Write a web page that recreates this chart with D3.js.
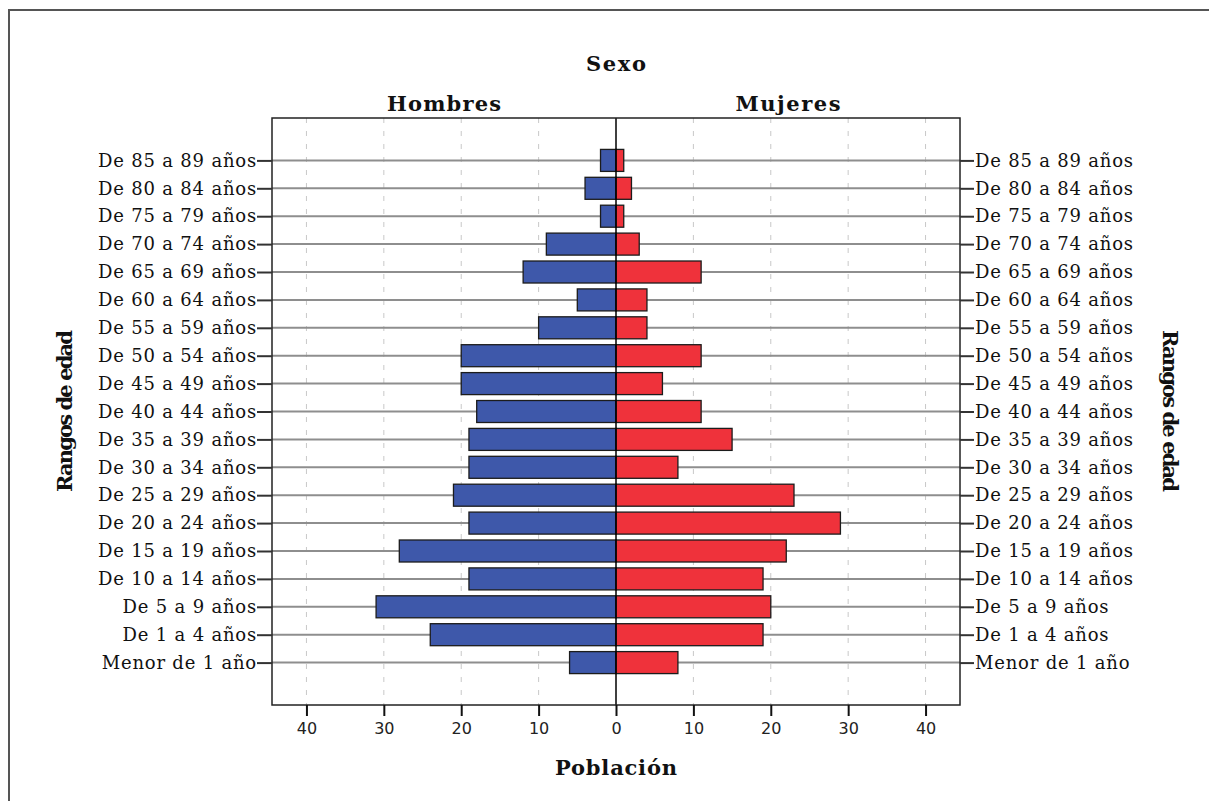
<!DOCTYPE html>
<html>
<head>
<meta charset="utf-8">
<script src="https://cdn.jsdelivr.net/npm/d3@7"></script>
<style>
  body { margin: 0; background: #fff; }
  svg { display: block; }
</style>
</head>
<body>
<svg width="1209" height="801"></svg>
<script>
// rangos de edad, de arriba hacia abajo
var edades = ["De 85 a 89 años", "De 80 a 84 años", "De 75 a 79 años", "De 70 a 74 años",
    "De 65 a 69 años", "De 60 a 64 años", "De 55 a 59 años", "De 50 a 54 años",
    "De 45 a 49 años", "De 40 a 44 años", "De 35 a 39 años", "De 30 a 34 años",
    "De 25 a 29 años", "De 20 a 24 años", "De 15 a 19 años", "De 10 a 14 años",
    "De 5 a 9 años", "De 1 a 4 años", "Menor de 1 año"];

var hombres = [2, 4, 2, 9, 12, 5, 10, 20, 20, 18, 19, 19, 21, 19, 28, 19, 31, 24, 6];
var mujeres = [1, 2, 1, 3, 11, 4, 4, 11, 6, 11, 15, 8, 23, 29, 22, 19, 20, 19, 8];

var ticks = [-40, -30, -20, -10, 0, 10, 20, 30, 40];

var svg = d3.select("svg");

// area del grafico ("top" choca con window.top)
var pLeft = 272, pRight = 960, pTop = 118, pBottom = 705;
var serif = "'DejaVu Serif', serif";

// marco exterior
svg.append("rect")
    .attr("x", 9).attr("y", 10)
    .attr("width", 1300).attr("height", 900)
    .attr("fill", "none")
    .attr("stroke", "#555")
    .attr("stroke-width", 2);

var x = d3.scaleLinear().domain([-44.45, 44.45]).range([pLeft, pRight]);
var y = d3.scalePoint().domain(edades).range([pTop, pBottom]).padding(1.52);
var barH = 22;

// rejilla vertical punteada
svg.append("g")
    .selectAll("line")
    .data(ticks.filter(function(d) { return d !== 0; }))
    .enter().append("line")
    .attr("x1", function(d) { return x(d); })
    .attr("x2", function(d) { return x(d); })
    .attr("y1", pTop).attr("y2", pBottom)
    .attr("stroke", "#c8c8c8")
    .attr("stroke-width", 1)
    .attr("stroke-dasharray", "5,8");

// lineas horizontales por rango
svg.append("g")
    .selectAll("line")
    .data(edades)
    .enter().append("line")
    .attr("x1", pLeft).attr("x2", pRight)
    .attr("y1", function(d) { return y(d); })
    .attr("y2", function(d) { return y(d); })
    .attr("stroke", "#8e8e8e")
    .attr("stroke-width", 2);

// barras hombres (izquierda)
svg.append("g")
    .selectAll("rect")
    .data(hombres)
    .enter().append("rect")
    .attr("x", function(d) { return x(-d); })
    .attr("y", function(d, i) { return y(edades[i]) - barH / 2; })
    .attr("width", function(d) { return x(0) - x(-d); })
    .attr("height", barH)
    .attr("fill", "#3e58aa")
    .attr("stroke", "#1c1c1c")
    .attr("stroke-width", 1.3);

// barras mujeres (derecha)
svg.append("g")
    .selectAll("rect")
    .data(mujeres)
    .enter().append("rect")
    .attr("x", x(0))
    .attr("y", function(d, i) { return y(edades[i]) - barH / 2; })
    .attr("width", function(d) { return x(d) - x(0); })
    .attr("height", barH)
    .attr("fill", "#ef323b")
    .attr("stroke", "#1c1c1c")
    .attr("stroke-width", 1.3);

// linea del cero
svg.append("line")
    .attr("x1", x(0)).attr("x2", x(0))
    .attr("y1", pTop).attr("y2", pBottom)
    .attr("stroke", "#000")
    .attr("stroke-width", 1.5);

// marco del grafico
svg.append("rect")
    .attr("x", pLeft).attr("y", pTop)
    .attr("width", pRight - pLeft).attr("height", pBottom - pTop)
    .attr("fill", "none")
    .attr("stroke", "#222")
    .attr("stroke-width", 1.5);

// eje inferior
var xAxis = svg.append("g")
    .attr("transform", "translate(0," + pBottom + ")")
    .call(d3.axisBottom(x).tickValues(ticks).tickFormat(function(d) { return Math.abs(d); })
        .tickSize(11).tickPadding(7));
xAxis.select(".domain").remove();
xAxis.selectAll("line").attr("stroke", "#111").attr("stroke-width", 2);
xAxis.selectAll("text")
    .attr("fill", "#222")
    .style("font-family", "'DejaVu Sans', sans-serif")
    .style("font-size", "16px");

// ejes de categorias a ambos lados
function estiloCat(g) {
    g.select(".domain").remove();
    g.selectAll("line").attr("stroke", "#333").attr("stroke-width", 2);
    g.selectAll("text")
        .attr("fill", "#111")
        .style("font-family", serif)
        .style("font-size", "18px")
        .style("letter-spacing", "0.8px");
}

svg.append("g")
    .attr("transform", "translate(" + pLeft + ",0)")
    .call(d3.axisLeft(y).tickSize(15).tickPadding(0))
    .call(estiloCat);

svg.append("g")
    .attr("transform", "translate(" + pRight + ",0)")
    .call(d3.axisRight(y).tickSize(14).tickPadding(1))
    .call(estiloCat);

// titulos
function titulo(texto, tx, ty, rot, largo) {
    svg.append("text")
        .attr("transform", "translate(" + tx + "," + ty + ") rotate(" + rot + ")")
        .attr("text-anchor", "middle")
        .attr("textLength", largo)
        .attr("lengthAdjust", "spacing")
        .style("font-family", serif)
        .style("font-weight", "bold")
        .style("font-size", "21px")
        .attr("fill", "#111")
        .text(texto);
}

titulo("Sexo", x(0), 71, 0, 60);
titulo("Hombres", (pLeft + x(0)) / 2, 111, 0, 114);
titulo("Mujeres", (pRight + x(0)) / 2, 111, 0, 105);
titulo("Población", x(0), 775, 0, 122);
titulo("Rangos de edad", 72, 411, -90, 162);
titulo("Rangos de edad", 1163, 411, 90, 162);
</script>
</body>
</html>
